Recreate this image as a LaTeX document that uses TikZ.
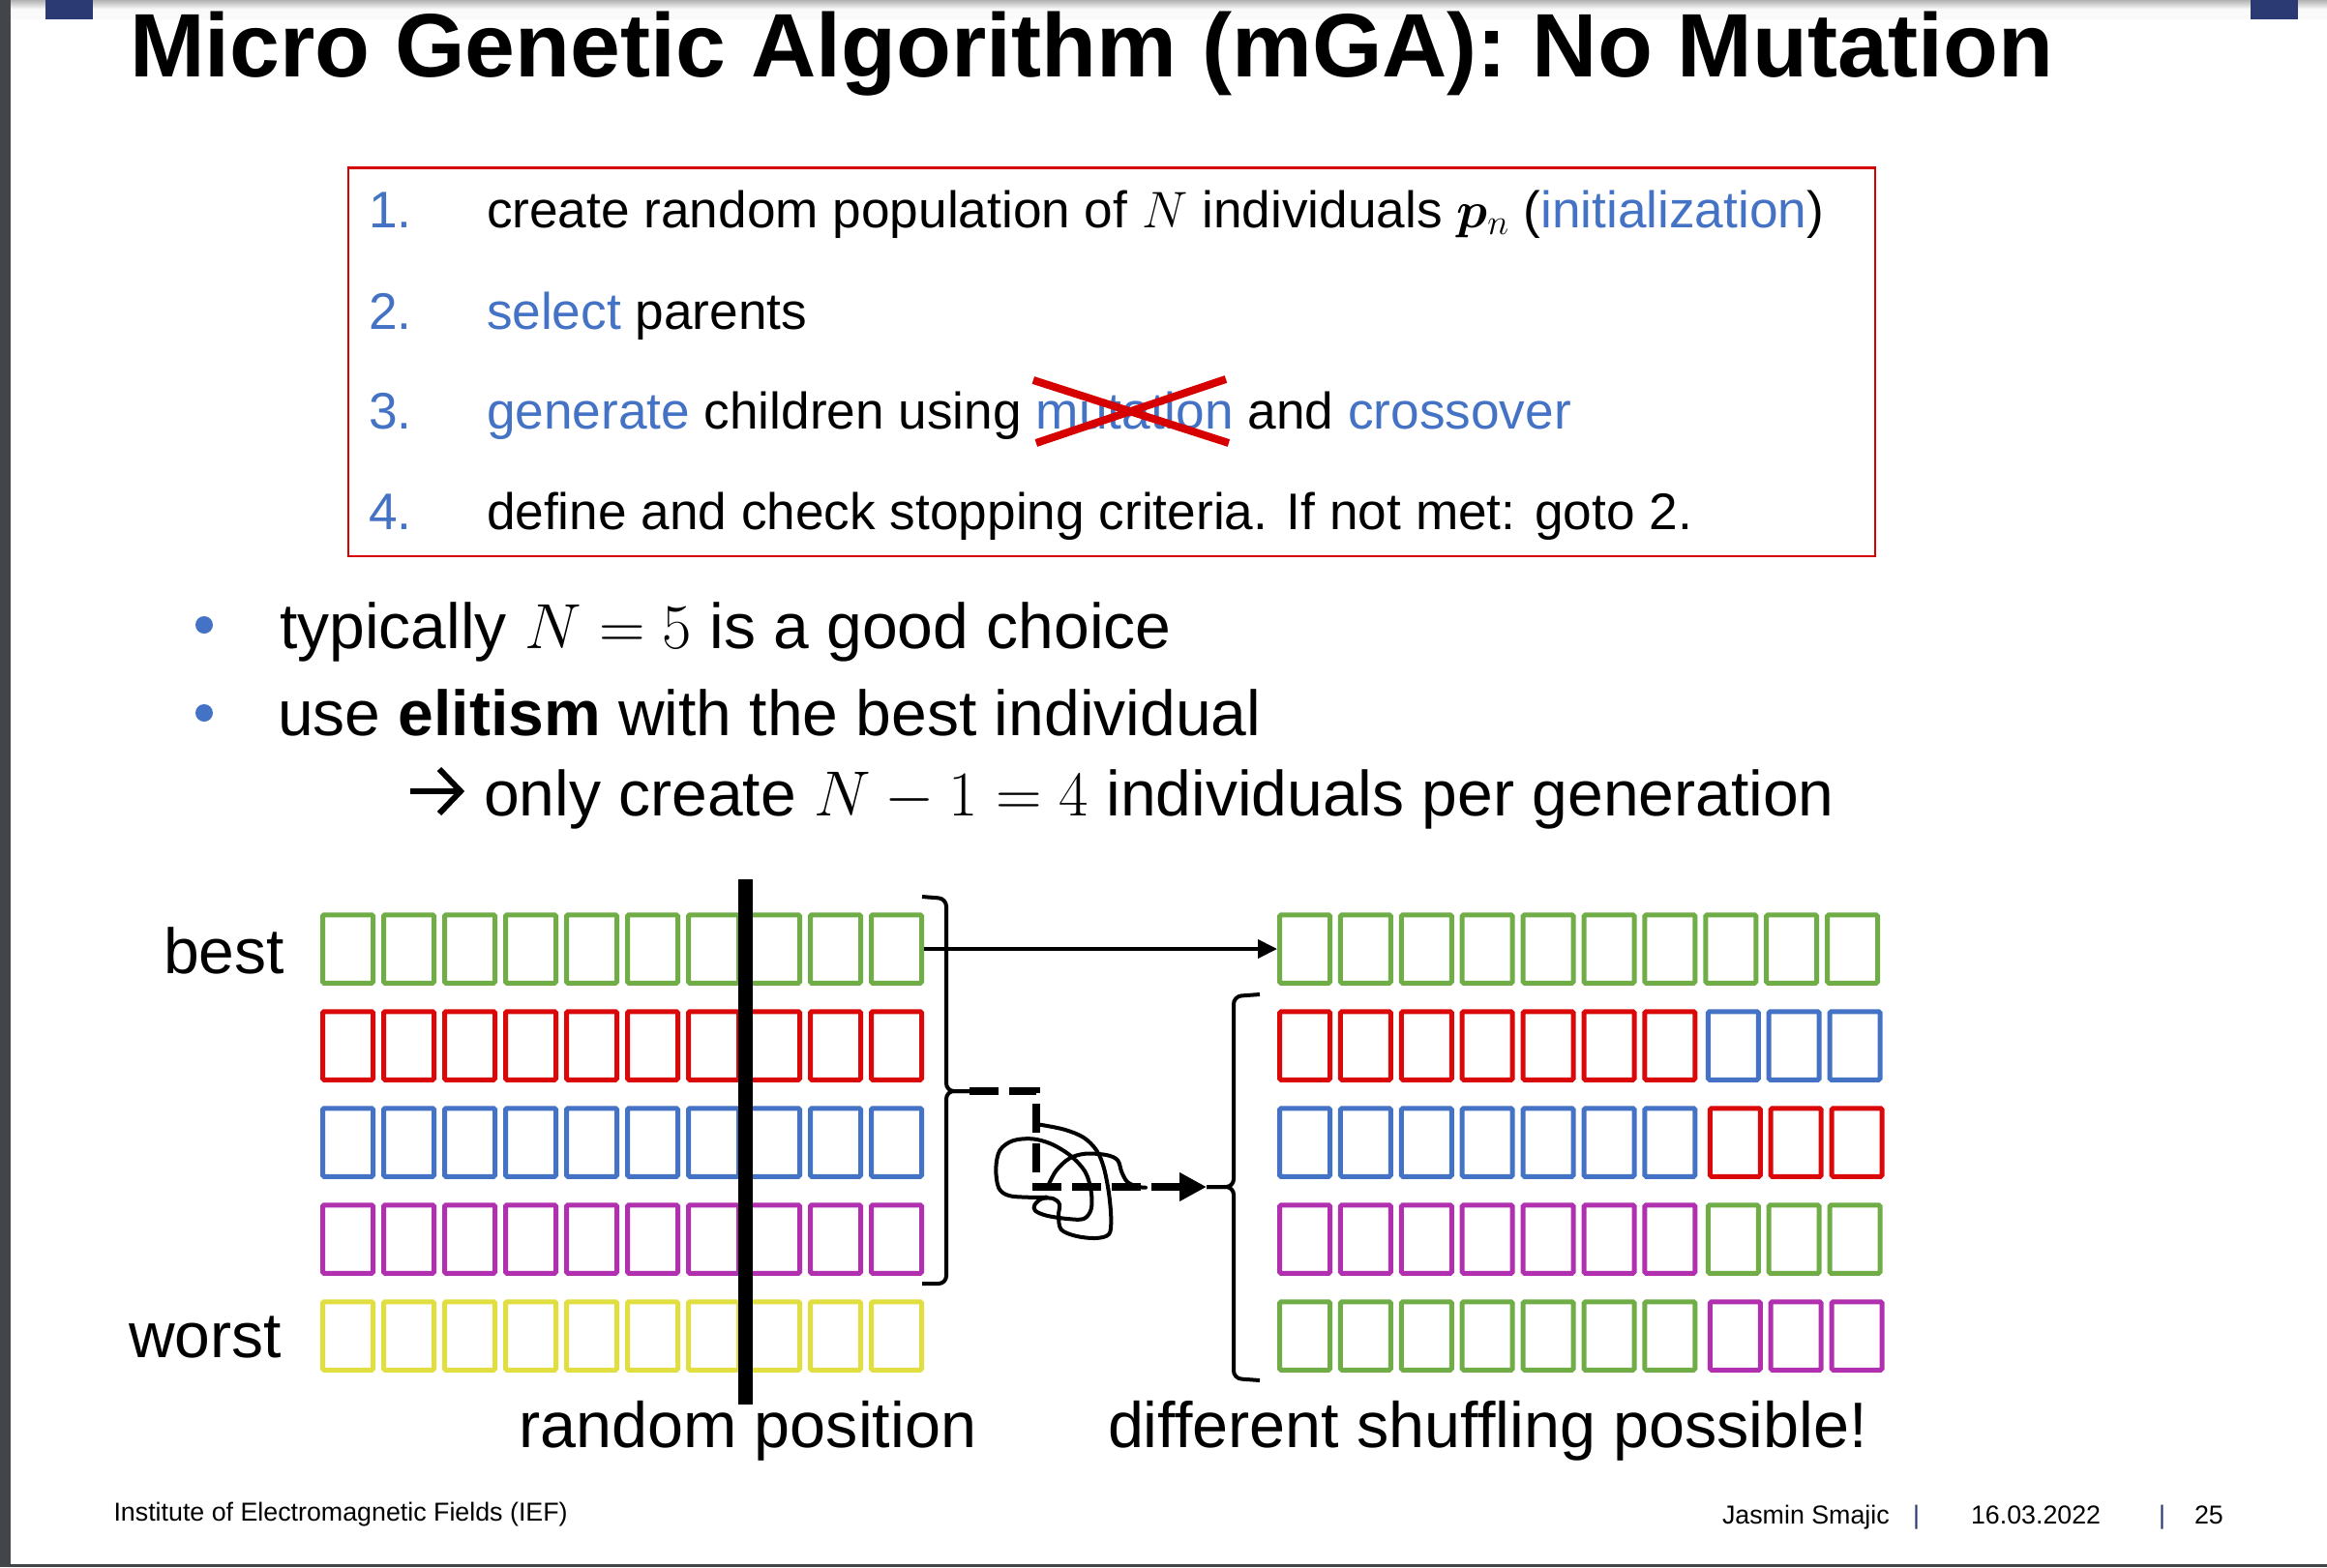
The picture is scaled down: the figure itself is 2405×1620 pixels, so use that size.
\RequirePackage{fix-cm}
\documentclass[tikz,border=0pt]{standalone}
\usepackage{bm}
\usepackage{fontspec}
\setmainfont{Liberation Sans}
\usetikzlibrary{arrows.meta,calc}

\definecolor{ablue}{RGB}{68,114,196}
\definecolor{bred}{RGB}{214,0,0}
\definecolor{cgreen}{RGB}{112,173,71}
\definecolor{cred}{RGB}{218,8,8}
\definecolor{cblue}{RGB}{68,114,196}
\definecolor{cpurple}{RGB}{176,48,176}
\definecolor{cyellow}{RGB}{224,222,64}
\definecolor{navy}{RGB}{43,58,115}
\definecolor{edgegray}{RGB}{66,69,74}

\newcommand\mytitlefont{\fontsize{93.2}{100}\selectfont\bfseries}
\newcommand\mylistfont{\fontsize{53.2}{60}\selectfont}
\newcommand\mybigfont{\fontsize{66}{72}\selectfont}
\newcommand\mylabelfont{\fontsize{66.5}{72}\selectfont}
\newcommand\myfootfont{\fontsize{26.8}{30}\selectfont}

\begin{document}
\begin{tikzpicture}[x=1pt,y=-1pt,
  txt/.style={inner sep=0pt, outer sep=0pt, anchor=base west},
  cell/.style={draw, line width=5pt, minimum width=52pt, minimum height=70.5pt, inner sep=0pt, rounded corners=1.5pt},
  brace/.style={line width=4pt, rounded corners=8pt},
  xmark/.style={line width=8pt, bred},
  knot/.style={line width=4pt, line cap=round, line join=round}]
\useasboundingbox (0,0) rectangle (2405,1620);
\fill[white] (0,0) rectangle (2405,1620);
% top shadow and frame
\foreach \k in {0,...,19}{\pgfmathsetmacro{\g}{max(2,30-3*\k)}\fill[black!\g] (11,\k) rectangle (2405,\k+1.05);}
\fill[edgegray] (0,0) rectangle (11,1620);
\fill[edgegray] (0,1617) rectangle (2405,1620);
\fill[navy] (47,0) rectangle (96,20);
\fill[navy] (2326,0) rectangle (2375,20);

% title
\node[txt, font=\mytitlefont] (title) at (134,79) {Micro Genetic Algorithm (mGA): No Mutation};

% steps box
\node[draw=bred, line width=2.5pt, minimum width=1578pt, minimum height=401.5pt, inner sep=0pt] (stepsbox) at (1148.8,374) {};
\node[txt, font=\mylistfont, text=ablue] (n1) at (381,235) {1.};
\node[txt, font=\mylistfont] (t1) at (503,235) {create random population of $N$ individuals $\bm{p}_n$ (\textcolor{ablue}{initialization})};
\node[txt, font=\mylistfont, text=ablue] (n2) at (381,340) {2.};
\node[txt, font=\mylistfont] (t2) at (503,340) {\textcolor{ablue}{select} parents};
\node[txt, font=\mylistfont, text=ablue] (n3) at (381,443) {3.};
\node[txt, font=\mylistfont] (t3a) at (503,443) {\textcolor{ablue}{generate} children using};
\node[txt, font=\mylistfont, text=ablue] (t3b) at ($(t3a.base east)+(14.8,0)$) {mutation};
\node[txt, font=\mylistfont] (t3c) at ($(t3b.base east)+(14.8,0)$) {and \textcolor{ablue}{crossover}};
\draw[xmark] ($(t3b.base west)+(-3,-50)$) -- ($(t3b.base east)+(-5,15)$);
\draw[xmark] ($(t3b.base west)+(0,15)$) -- ($(t3b.base east)+(-8,-51)$);
\node[txt, font=\mylistfont, text=ablue] (n4) at (381,547) {4.};
\node[txt, font=\mylistfont] (t4) at (503,547) {define and check stopping criteria. If not met: goto 2.};

% bullets
\node[circle, fill=ablue, minimum size=18pt, inner sep=0pt] (b1) at (211,646) {};
\node[txt, font=\mybigfont] (u1) at (289,670) {typically $N=5$ is a good choice};
\node[circle, fill=ablue, minimum size=18pt, inner sep=0pt] (b2) at (211,737) {};
\node[txt, font=\mybigfont] (u2) at (287,760) {use \textbf{elitism} with the best individual};
\node[txt, font=\mybigfont] (u3) at (500,843) {only create $N-1=4$ individuals per generation};
% implication arrow
\coordinate (ia0) at (424,818);
\coordinate (ia1) at (476,818);
\draw[line width=6pt] (ia0) -- (ia1);
\draw[line width=6pt, miter limit=4] (454,795) -- (ia1) -- (454,841);

% left population
\foreach \r/\c in {0/cgreen,1/cred,2/cblue,3/cpurple,4/cyellow}{
  \foreach \i in {0,...,9}{
    \node[cell, draw=\c] (L\r\i) at ({359.5+63*\i},{981+100*\r}) {};
  }
}
% right population
\foreach \r/\ca/\cb/\off in {0/cgreen/cgreen/0, 1/cred/cblue/2.5, 2/cblue/cred/4.5, 3/cpurple/cgreen/2.5, 4/cgreen/cpurple/4.5}{
  \foreach \i in {0,...,6}{
    \node[cell, draw=\ca] (R\r\i) at ({1348.5+62.9*\i},{981+100*\r}) {};
  }
  \foreach \i in {7,8,9}{
    \node[cell, draw=\cb] (R\r\i) at ({1348.5+\off+62.9*\i},{981+100*\r}) {};
  }
}

% crossover position bar
\draw[line width=15pt] (770,909) -- (770,1452);

% labels
\node[txt, anchor=base east, font=\mybigfont] (best) at (294,1006) {best};
\node[txt, anchor=base east, font=\mybigfont] (worst) at (291,1403) {worst};
\node[txt, font=\mylabelfont] (randpos) at (536,1496) {random position};
\node[txt, font=\mylabelfont] (shuf) at (1145,1496) {different shuffling possible!};

% braces
\coordinate (lbtip) at (1002,1128);
\coordinate (rbtip) at (1247,1227);
\draw[brace] (953,927) -- (978,929) -- (978,1128) -- (lbtip);
\draw[brace] (lbtip) -- (978,1128) -- (978,1327) -- (953,1327);
\draw[brace] (1302,1028) -- (1275,1030) -- (1275,1227) -- (rbtip);
\draw[brace] (rbtip) -- (1275,1227) -- (1275,1425) -- (1302,1427);

% elitism arrow
\draw[line width=4pt, -{Triangle[length=20pt,width=19pt]}] (L09.east) -- (R00.west);

% shuffle arrow
\draw[line width=8pt, dash pattern=on 30pt off 11pt, -{Triangle[length=28pt,width=28pt]}] (lbtip) -- (1071,1128) -- (1071,1227) -- (rbtip);

% knot
\draw[knot] plot[smooth, tension=0.55] coordinates {(1075,1162.7) (1100,1167.7) (1120,1176) (1133.3,1189.3) (1140.7,1206.7) (1146,1233.3) (1148.3,1260) (1146,1276) (1131.7,1280) (1111.7,1277.7) (1096.7,1271) (1094,1256.7) (1095,1245) (1088.3,1239) (1076.7,1239.3) (1069.3,1245.7) (1070,1251.7) (1081.7,1256.7) (1103.3,1260) (1120,1260) (1127.7,1250) (1127.7,1231.7) (1121.7,1211.7) (1106.7,1195) (1086.7,1182.7) (1066.7,1177.3) (1046.7,1179.3) (1033.3,1189.3) (1029.3,1208.3) (1032.3,1228.3) (1042.7,1236) (1061.7,1237.7) (1081.7,1237.7)};
\draw[knot] plot[smooth, tension=0.55] coordinates {(1084,1224) (1091.7,1210) (1105,1197.7) (1121.7,1192.7) (1143.3,1194) (1155,1199.3) (1159.3,1211.7) (1165,1221.7) (1175,1226.7) (1184,1227.7)};

% footer
\node[txt, font=\myfootfont] (inst) at (117.5,1572) {Institute of Electromagnetic Fields (IEF)};
\node[txt, font=\myfootfont] (author) at (1780,1575) {Jasmin Smajic};
\node[txt, font=\myfootfont, text=navy] (sep1) at (1977,1575) {|};
\node[txt, font=\myfootfont] (date) at (2037,1575) {16.03.2022};
\node[txt, font=\myfootfont, text=navy] (sep2) at (2231,1575) {|};
\node[txt, font=\myfootfont] (page) at (2268,1575) {25};
\end{tikzpicture}
\end{document}
